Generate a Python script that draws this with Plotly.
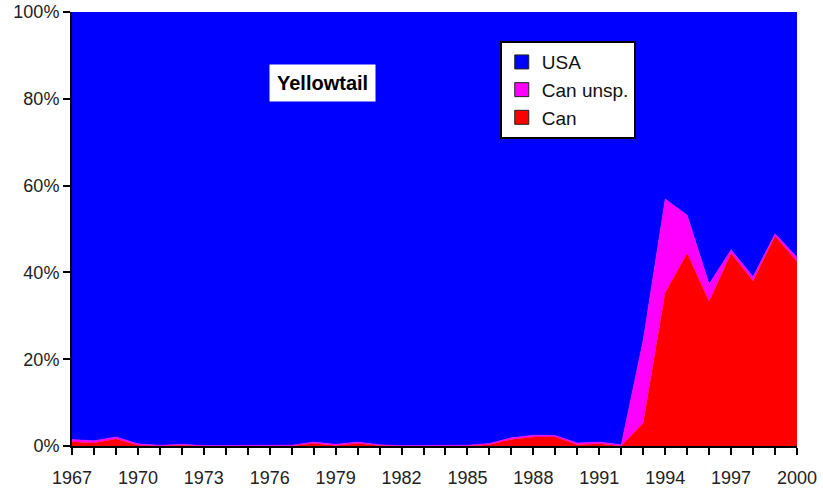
import plotly.graph_objects as go

# years and shares (% of total catch)
years = list(range(1967, 2001))
can = [1.0, 0.7, 1.6, 0.2, 0.0, 0.2, 0.0, 0.0, 0.0, 0.0, 0.0, 0.6,
       0.1, 0.6, 0.1, 0.0, 0.0, 0.0, 0.0, 0.3, 1.5, 2.1, 2.1, 0.3,
       0.5, 0.0, 5.3, 35.3, 44.4, 33.3, 44.4, 38.0, 48.4, 42.5]
can_unsp = [0.5, 0.5, 0.5, 0.3, 0.2, 0.2, 0.1, 0.1, 0.1, 0.1, 0.2, 0.3,
            0.3, 0.3, 0.2, 0.1, 0.1, 0.1, 0.2, 0.3, 0.4, 0.4, 0.3, 0.4,
            0.4, 0.3, 19.1, 21.6, 8.8, 4.0, 0.8, 1.0, 0.5, 1.0]
usa = [98.5, 98.8, 97.9, 99.5, 99.8, 99.6, 99.9, 99.9, 99.9, 99.9, 99.8, 99.1,
       99.6, 99.1, 99.7, 99.9, 99.9, 99.9, 99.8, 99.4, 98.1, 97.5, 97.6, 99.3,
       99.1, 99.7, 75.6, 43.1, 46.8, 62.7, 54.8, 61.0, 51.1, 56.5]

series = [("Can", can, "#ff0000"),
          ("Can unsp.", can_unsp, "#ff00ff"),
          ("USA", usa, "#0000ff")]

fig = go.Figure()
for name, vals, col in series:
    fig.add_trace(go.Scatter(
        x=years, y=vals, name=name, mode="lines",
        stackgroup="one", groupnorm="percent", showlegend=False,
        line=dict(color=col, width=0.5), fillcolor=col))

# legend entries drawn as square boxes, like the original
for name, vals, col in reversed(series):
    fig.add_trace(go.Scatter(
        x=[None], y=[None], name=name, mode="markers",
        marker=dict(symbol="square", size=14, color=col,
                    line=dict(color="#222", width=1))))

fig.add_annotation(x=1978.4, y=83.7, text="<b>Yellowtail</b>", showarrow=False,
                   bgcolor="white", borderpad=7,
                   font=dict(size=20, color="black"))

fig.update_layout(
    width=823, height=489,
    margin=dict(l=72, r=26, t=12, b=43),
    paper_bgcolor="white", plot_bgcolor="white",
    font=dict(family="Liberation Sans, Arial, sans-serif", size=17, color="#222"),
    legend=dict(x=0.59, y=0.933, xanchor="left", yanchor="top",
                bgcolor="white", bordercolor="black", borderwidth=2,
                traceorder="normal", font=dict(size=19, color="#111"),
                itemwidth=30, tracegroupgap=0),
    xaxis=dict(range=[1967, 2000], tick0=1967, dtick=3, showgrid=False,
               showline=True, linecolor="black", linewidth=2,
               ticks="outside", ticklen=7, tickwidth=2, tickcolor="black",
               minor=dict(dtick=1, tick0=1967, ticks="outside", ticklen=7,
                          tickwidth=2, tickcolor="black"),
               zeroline=False, automargin=False, ticklabeloverflow="allow",
               ticklabelstandoff=7, tickfont=dict(size=18)),
    yaxis=dict(range=[0, 100], dtick=20, ticksuffix="%", showgrid=False,
               showline=True, linecolor="black", linewidth=2,
               ticks="outside", ticklen=7, tickwidth=2, tickcolor="black",
               zeroline=False, automargin=False, ticklabeloverflow="allow",
               tickfont=dict(size=18)),
)

# drop the browser's default body margin so the figure sits at the page corner
fig.write_html("out.html", config={"displayModeBar": False},
               post_script="document.body.style.margin='0';")
